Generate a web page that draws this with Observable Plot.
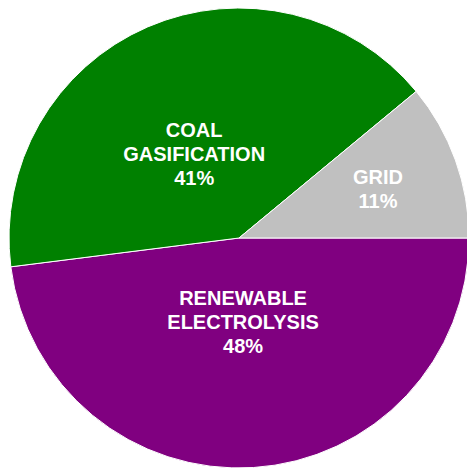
<!DOCTYPE html>
<html>
<head>
<meta charset="utf-8">
<script src="https://cdn.jsdelivr.net/npm/d3@7"></script>
<script src="https://cdn.jsdelivr.net/npm/@observablehq/plot@0.6"></script>
<style>
  html, body { margin: 0; padding: 0; background: #fff; }
  #chart svg { display: block; }
</style>
</head>
<body>
<div id="chart"></div>
<script>
// ---- data ----
const categories = ["RENEWABLE\nELECTROLYSIS", "COAL\nGASIFICATION", "GRID"];
const shares = [48, 41, 11];
const sliceColors = ["#800080", "#008000", "#C0C0C0"];

// ---- layout (not data) ----
const W = 467, H = 469;
const R = 230;                 // pie radius in x/y units (1 unit = 1 px)
const cx = 239, cy = 238;      // pie centre in pixels
// label placement: fraction of radius and angle nudge (radians) per slice
const labelRadius = [0.36, 0.42, 0.64];
const labelNudge = [0.02, -0.08, 0.0];

const table = categories.map((c, i) => ({category: c, share: shares[i], color: sliceColors[i]}));

// slices laid out clockwise from 3 o'clock
const pie = d3.pie().sort(null).value(d => d.share)
  .startAngle(Math.PI / 2).endAngle(Math.PI / 2 + 2 * Math.PI);
const arcs = pie(table);

const labels = arcs.map((a, i) => {
  const mid = (a.startAngle + a.endAngle) / 2 + labelNudge[i];
  const r = R * labelRadius[i];
  return {
    text: a.data.category + "\n" + Math.round(a.data.share) + "%",
    x: r * Math.sin(mid),
    y: r * Math.cos(mid)
  };
});

function pieMark(index, scales) {
  const x0 = scales.x(0), y0 = scales.y(0);
  const rad = scales.x(R) - scales.x(0);
  const arcGen = d3.arc().innerRadius(0).outerRadius(rad);
  const g = d3.create("svg:g").attr("transform", `translate(${x0},${y0})`);
  g.selectAll("path")
    .data(arcs)
    .join("path")
    .attr("d", arcGen)
    .attr("fill", d => d.data.color)
    .attr("stroke", "#ffffff")
    .attr("stroke-width", 1)
    .attr("stroke-linejoin", "round");
  return g.node();
}

const chart = Plot.plot({
  width: W,
  height: H,
  margin: 0,
  x: {domain: [-cx, W - cx], range: [0, W], axis: null},
  y: {domain: [-(H - cy), cy], range: [H, 0], axis: null},
  style: {background: "#ffffff", overflow: "hidden"},
  marks: [
    pieMark,
    Plot.text(labels, {
      x: "x",
      y: "y",
      text: "text",
      fill: "#ffffff",
      fontSize: 20,
      fontWeight: "bold",
      fontFamily: "'Liberation Sans', Arial, Helvetica, sans-serif",
      lineHeight: 1.2,
      textAnchor: "middle",
      lineAnchor: "middle"
    })
  ]
});
document.getElementById("chart").appendChild(chart);
</script>
</body>
</html>
